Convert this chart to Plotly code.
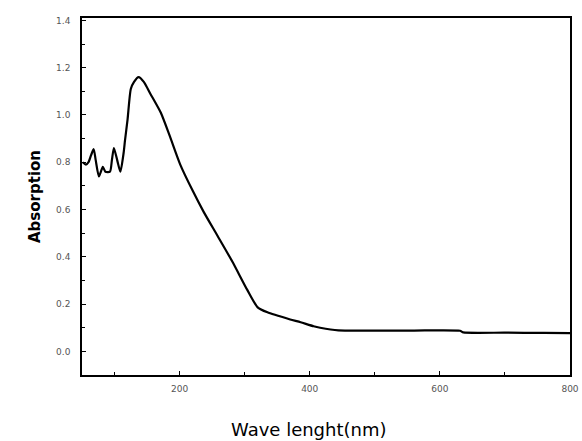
import plotly.graph_objects as go

wavelength = [51, 56, 60, 64, 68, 71, 76, 82, 86, 93, 96, 99, 104, 109, 114, 116,
              120, 125, 130, 137, 145, 155, 171, 185, 201, 220, 237, 258, 281, 304,
              320, 335, 370, 386, 406, 416, 444, 500, 560, 631, 636, 700, 760, 800]
absorption = [0.80, 0.79, 0.80, 0.83, 0.855, 0.81, 0.74, 0.78, 0.76, 0.76, 0.81, 0.86,
              0.81, 0.76, 0.84, 0.89, 0.98, 1.11, 1.14, 1.16, 1.14, 1.09, 1.01, 0.91,
              0.79, 0.68, 0.59, 0.49, 0.38, 0.26, 0.186, 0.165, 0.135, 0.123, 0.106,
              0.10, 0.089, 0.088, 0.088, 0.087, 0.080, 0.079, 0.078, 0.077]

x_ticks = [200, 400, 600, 800]
y_ticks = [0.0, 0.2, 0.4, 0.6, 0.8, 1.0, 1.2, 1.4]

fig = go.Figure()
fig.add_trace(go.Scatter(x=wavelength, y=absorption, mode="lines",
                         line=dict(color="black", width=2.2, shape="spline", smoothing=0.6),
                         showlegend=False))

axis_common = dict(showline=True, linecolor="black", linewidth=1.5, mirror=True,
                   ticks="inside", tickcolor="black", ticklen=4, showgrid=False,
                   zeroline=False, automargin=False,
                   tickfont=dict(family="DejaVu Sans", size=9, color="#555"))

fig.update_xaxes(range=[50, 800], tickvals=x_ticks, ticktext=[str(v) for v in x_ticks],
                 minor=dict(ticks="inside", dtick=100, tick0=0, ticklen=3, tickcolor="black"),
                 ticklabelstandoff=4,
                 **axis_common)
fig.update_yaxes(range=[-0.1, 1.41], tickvals=y_ticks, ticktext=[f"{v:.1f}" for v in y_ticks],
                 minor=dict(ticks="inside", dtick=0.1, tick0=0, ticklen=3, tickcolor="black"),
                 ticklabelstandoff=8,
                 title=dict(text="<b>Absorption</b>", standoff=12,
                            font=dict(family="DejaVu Sans", size=15, color="black")),
                 **axis_common)

fig.add_annotation(text="Wave lenght(nm)", xref="paper", yref="paper",
                   x=0.465, y=-0.154, showarrow=False, xanchor="center", yanchor="middle",
                   font=dict(family="DejaVu Sans", size=18, color="black"))

fig.update_layout(width=582, height=441, margin=dict(l=82, r=12, t=18, b=66),
                  plot_bgcolor="white", paper_bgcolor="white")
fig.write_html("out.html")
